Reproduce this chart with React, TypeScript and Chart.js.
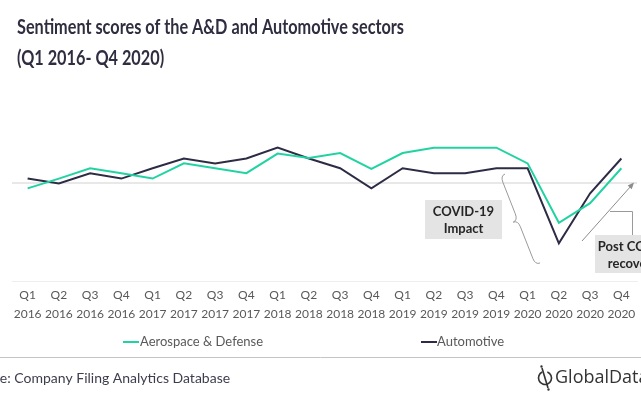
import React, { useEffect, useRef } from "react";
import { Chart, registerables } from "chart.js";

Chart.register(...registerables);

const quarters = ["Q1", "Q2", "Q3", "Q4"];
const years = ["2016", "2017", "2018", "2019", "2020"];
const categories: string[][] = years.flatMap((y) => quarters.map((q) => [q, y]));

const aerospaceDefense = [
  -0.01, 0.01, 0.031, 0.021, 0.01, 0.041, 0.031, 0.021, 0.061, 0.052,
  0.062, 0.03, 0.062, 0.073, 0.073, 0.073, 0.041, -0.08, -0.04, 0.031,
];
const automotive = [
  0.01, 0.0, 0.021, 0.01, 0.031, 0.051, 0.041, 0.051, 0.073, 0.051,
  0.031, -0.01, 0.031, 0.021, 0.021, 0.031, 0.031, -0.122, -0.02, 0.051,
];

const seriesNames = ["Aerospace & Defense", "Automotive"];
const titleLines = ["Sentiment scores of the A&D and Automotive sectors", "(Q1 2016- Q4 2020)"];
const sourceText = "Source: Company Filing Analytics Database";

const GREEN = "#22d3a2";
const DARK = "#2d2c45";

const decorPlugin = {
  id: "decor",
  afterDraw(chart: any) {
    const ctx: CanvasRenderingContext2D = chart.ctx;
    ctx.save();
    // Title
    ctx.fillStyle = "#2f2e40";
    ctx.textBaseline = "alphabetic";
    ctx.textAlign = "left";
    ctx.font = "bold 21px Lato";
    const w1 = ctx.measureText(titleLines[0]).width;
    const sx = 387 / w1;
    ctx.save();
    ctx.translate(17, 0);
    ctx.scale(sx, 1);
    ctx.fillText(titleLines[0], 0, 34);
    ctx.fillText(titleLines[1], 0, 65);
    ctx.restore();

    // Brace
    ctx.strokeStyle = "#9a9a9a";
    ctx.lineWidth = 1;
    const T = { x: 505, y: 174 };
    const B = { x: 540, y: 263 };
    const dx = B.x - T.x, dy = B.y - T.y;
    const L = Math.hypot(dx, dy);
    const ux = dx / L, uy = dy / L;
    const nx = -uy, ny = ux;
    const lx = -Math.abs(nx), ly = nx < 0 ? ny : -ny;
    const P = (u: number, v: number) => [T.x + ux * u + lx * v, T.y + uy * u + ly * v];
    ctx.beginPath();
    let p = P(0, 0);
    ctx.moveTo(p[0], p[1]);
    let c = P(0, 5), e = P(7, 5);
    ctx.quadraticCurveTo(c[0], c[1], e[0], e[1]);
    e = P(L / 2 - 7, 5);
    ctx.lineTo(e[0], e[1]);
    c = P(L / 2, 5); e = P(L / 2, 10);
    ctx.quadraticCurveTo(c[0], c[1], e[0], e[1]);
    c = P(L / 2, 5); e = P(L / 2 + 7, 5);
    ctx.quadraticCurveTo(c[0], c[1], e[0], e[1]);
    e = P(L - 7, 5);
    ctx.lineTo(e[0], e[1]);
    c = P(L, 5); e = P(L, 0);
    ctx.quadraticCurveTo(c[0], c[1], e[0], e[1]);
    ctx.stroke();

    // COVID box
    ctx.fillStyle = "#e4e4e4";
    ctx.fillRect(425, 200, 77, 39);
    ctx.fillStyle = "#262626";
    ctx.font = "bold 13px Lato";
    ctx.textAlign = "center";
    ctx.textBaseline = "middle";
    ctx.fillText("COVID-19", 463.5, 212);
    ctx.fillText("Impact", 463.5, 228.5);

    // Arrow
    ctx.strokeStyle = "#8c8c8c";
    ctx.fillStyle = "#8c8c8c";
    ctx.beginPath();
    ctx.moveTo(582, 241);
    ctx.lineTo(631, 186);
    ctx.stroke();
    const ang = Math.atan2(186 - 241, 631 - 582);
    ctx.beginPath();
    ctx.moveTo(634, 182.5);
    ctx.lineTo(634 - 7 * Math.cos(ang - 0.4), 182.5 - 7 * Math.sin(ang - 0.4));
    ctx.lineTo(634 - 7 * Math.cos(ang + 0.4), 182.5 - 7 * Math.sin(ang + 0.4));
    ctx.closePath();
    ctx.fill();

    // connector
    ctx.strokeStyle = "#9a9a9a";
    ctx.beginPath();
    ctx.moveTo(610, 211.5);
    ctx.lineTo(632.5, 211.5);
    ctx.lineTo(632.5, 235);
    ctx.stroke();

    // Post box
    ctx.fillStyle = "#e4e4e4";
    ctx.fillRect(595, 235, 80, 38);
    ctx.fillStyle = "#262626";
    ctx.fillText("Post COVID", 633, 247);
    ctx.fillText("recovery", 633, 264);

    // Legend
    ctx.textAlign = "left";
    ctx.font = "13px Lato";
    ctx.fillStyle = "#595959";
    ctx.lineWidth = 2;
    ctx.strokeStyle = GREEN;
    ctx.beginPath();
    ctx.moveTo(123, 342);
    ctx.lineTo(139, 342);
    ctx.stroke();
    ctx.fillText(seriesNames[0], 140, 342);
    ctx.strokeStyle = DARK;
    ctx.beginPath();
    ctx.moveTo(421, 342);
    ctx.lineTo(437, 342);
    ctx.stroke();
    ctx.fillText(seriesNames[1], 437, 342);

    // separator
    ctx.strokeStyle = "#c4c4c4";
    ctx.lineWidth = 1;
    ctx.beginPath();
    ctx.moveTo(0, 357.5);
    ctx.lineTo(641, 357.5);
    ctx.stroke();

    // source
    ctx.font = "14px Lato";
    ctx.fillStyle = "#3d3d4d";
    const cut = ctx.measureText("Sourc").width;
    ctx.fillText(sourceText, -cut, 378);

    // logo
    ctx.strokeStyle = "#333";
    ctx.fillStyle = "#333";
    ctx.lineWidth = 1.6;
    ctx.beginPath();
    ctx.arc(545, 378, 6.5, -1.2, Math.PI * 2 - 2.0);
    ctx.stroke();
    ctx.beginPath();
    ctx.moveTo(542, 368);
    ctx.lineTo(548, 388);
    ctx.stroke();
    ctx.beginPath();
    ctx.arc(541.5, 366.5, 1.2, 0, Math.PI * 2);
    ctx.arc(548.5, 389.5, 1.2, 0, Math.PI * 2);
    ctx.fill();
    ctx.font = "18px 'Open Sans'";
    ctx.fillText("GlobalData", 555, 378);

    ctx.restore();
  },
};

export default function App() {
  const ref = useRef<HTMLCanvasElement>(null);
  useEffect(() => {
    if (!ref.current) return;
    const chart = new Chart(ref.current, {
      type: "line",
      data: {
        labels: categories,
        datasets: [
          {
            label: seriesNames[0],
            data: aerospaceDefense,
            borderColor: GREEN,
            backgroundColor: GREEN,
            borderWidth: 2,
            pointRadius: 0,
            tension: 0,
          },
          {
            label: seriesNames[1],
            data: automotive,
            borderColor: DARK,
            backgroundColor: DARK,
            borderWidth: 2,
            pointRadius: 0,
            tension: 0,
          },
        ],
      },
      options: {
        responsive: false,
        animation: false,
        layout: { padding: { left: 12, right: 4, top: 105, bottom: 71 } },
        plugins: { legend: { display: false }, title: { display: false }, tooltip: { enabled: false } },
        scales: {
          x: {
            type: "category",
            offset: true,
            grid: { display: false, drawTicks: false },
            border: { display: true, color: "#eeeeee", width: 1 },
            ticks: {
              autoSkip: false,
              maxRotation: 0,
              padding: 4,
              color: "#595959",
              font: { family: "Lato", size: 12, lineHeight: 1.6 },
            },
          },
          y: {
            min: -0.2,
            max: 0.16,
            afterBuildTicks: (axis: any) => {
              axis.ticks = [{ value: 0 }];
            },
            ticks: { display: false },
            grid: { color: "#e8e8e8", lineWidth: 2, drawTicks: false },
            border: { display: false },
          },
        },
      },
      plugins: [decorPlugin],
    });
    return () => chart.destroy();
  }, []);
  return (
    <div style={{ position: "absolute", left: 0, top: 0, width: 641, height: 399, background: "#fff" }}>
      <canvas ref={ref} width={641} height={399} />
    </div>
  );
}
